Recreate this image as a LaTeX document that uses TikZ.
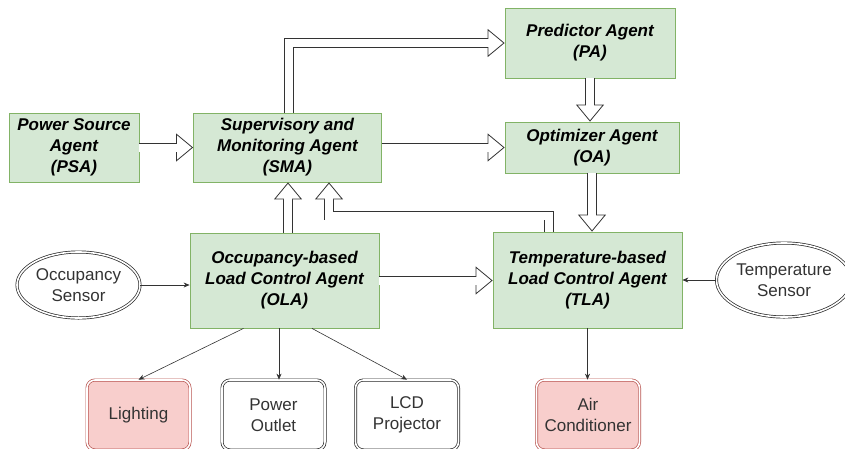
\documentclass[tikz,border=0pt]{standalone}
\usepackage{fontspec}
\setmainfont{Liberation Sans}
\usetikzlibrary{arrows.meta,shapes.geometric}

\definecolor{agentfill}{HTML}{D5E8D4}
\definecolor{agentline}{HTML}{82B366}
\definecolor{loadfill}{HTML}{F8CECC}
\definecolor{loadline}{HTML}{B85450}

\begin{document}
\begin{tikzpicture}[x=1pt, y=-1pt,
  agent/.style={rectangle, draw=agentline, fill=agentfill, line width=0.8pt,
                align=center, inner sep=2pt, font=\fontsize{17}{21}\selectfont\bfseries\itshape},
  sensor/.style={ellipse, draw=black!85, double, double distance=1.6pt, line width=0.7pt,
                 align=center, inner sep=0pt, text=black!80, font=\fontsize{17}{21}\selectfont},
  load/.style={rectangle, rounded corners=8pt, draw=black!85, double, double distance=1.6pt,
               line width=0.7pt, fill=white, align=center, text=black!80,
               font=\fontsize{17}{21}\selectfont, minimum width=103pt, minimum height=70pt},
  hot/.style={draw=loadline, fill=loadfill},
  fat/.style={draw=black!80, line width=9.6pt,
              -{Triangle[open, length=17pt, width=28pt, line width=0.8pt, fill=white]},
              postaction={draw=white, line width=8pt, -, shorten >=15pt}},
  thin/.style={draw=black!80, line width=0.6pt, -{Stealth[length=6pt, width=5pt]}}]
  \useasboundingbox (0,0) rectangle (845,448);
  \clip (0,0) rectangle (845,448);
  \node[agent, minimum width=130pt, minimum height=69pt] (psa) at (74,147.5) {Power Source\\Agent\\(PSA)};
  \node[agent, minimum width=188pt, minimum height=69pt] (sma) at (287.5,147.5) {Supervisory and\\Monitoring Agent\\(SMA)};
  \node[agent, minimum width=170pt, minimum height=70pt] (pa) at (590,43) {Predictor Agent\\(PA)};
  \node[agent, minimum width=174pt, minimum height=51pt] (oa) at (592,147.5) {Optimizer Agent\\(OA)};
  \node[agent, minimum width=189pt, minimum height=95pt] (ola) at (284.5,280.5) {Occupancy-based\\Load Control Agent\\(OLA)};
  \node[agent, minimum width=189pt, minimum height=96pt] (tla) at (587.5,280) {Temperature-based\\Load Control Agent\\(TLA)};
  \node[sensor, minimum width=123pt, minimum height=66pt] (occ) at (78.5,285) {Occupancy\\Sensor};
  \node[sensor, minimum width=124pt, minimum height=74pt] (temp) at (784,280) {Temperature\\Sensor};
  \node[load, hot] (light) at (138.5,415) {Lighting};
  \node[load] (outlet) at (273.5,415) {Power\\Outlet};
  \node[load] (lcd) at (407,415) {LCD\\Projector};
  \node[load, hot] (ac) at (588,415) {Air\\Conditioner};
  \coordinate (back) at (329,215.5);
  \draw[fat] (psa.east) -- (sma.west);
  \draw[fat] (sma.east) -- (oa.west);
  \draw[fat] ([xshift=1.5pt]sma.north) |- (pa.west);
  \draw[fat] (pa.south) -- (pa.south |- oa.north);
  \draw[fat] (oa.south) -- (oa.south |- tla.north);
  \draw[fat] ([xshift=3.5pt]ola.north) -- ([xshift=3.5pt]ola.north |- sma.south);
  \draw[fat] ([xshift=-38.5pt]tla.north) |- (back) -- (back |- sma.south);
  \draw[fat] (ola.east) -- (ola.east -| tla.west);
  \draw[thin] (occ.east) -- (occ.east -| ola.west);
  \draw[thin] (temp.west) -- (temp.west -| tla.east);
  \draw[thin] ([xshift=-41pt]ola.south) -- (light.north);
  \draw[thin] ([xshift=-5.5pt]ola.south) -- ([xshift=-5.5pt]ola.south |- outlet.north);
  \draw[thin] ([xshift=27.5pt]ola.south) -- (lcd.north);
  \draw[thin] (tla.south) -- (tla.south |- ac.north);
\end{tikzpicture}
\end{document}
